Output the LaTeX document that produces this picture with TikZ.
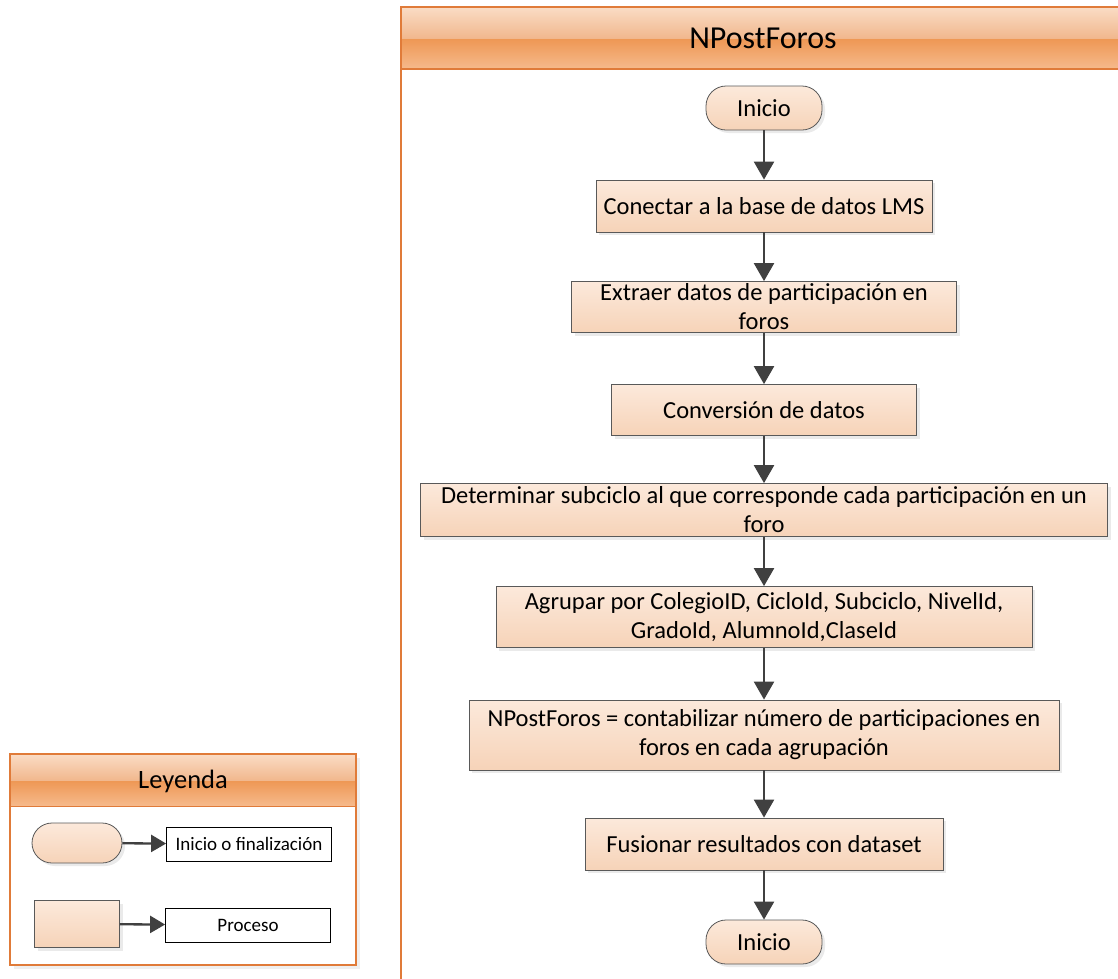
\documentclass[tikz,border=0pt]{standalone}
\usepackage{fontspec}
\setmainfont{Carlito}
\usetikzlibrary{arrows.meta,shadows}
\definecolor{hT}{HTML}{FADCC5}
\definecolor{hU}{HTML}{F1B88E}
\definecolor{hM}{HTML}{EE9754}
\definecolor{hB}{HTML}{F6BA8C}
\definecolor{poolC}{HTML}{E07B39}
\definecolor{boxT}{HTML}{FCE9DB}
\definecolor{boxB}{HTML}{F6D3B8}
\definecolor{lineC}{HTML}{595959}
\definecolor{arrC}{HTML}{404040}
\pgfdeclareverticalshading{hdrshade}{100bp}{color(0bp)=(hB); color(25bp)=(hB); color(49.6bp)=(hM); color(50bp)=(hU); color(75bp)=(hT); color(100bp)=(hT)}
\tikzset{
  procbox/.style={draw=lineC, line width=0.8pt, top color=boxT, bottom color=boxB,
    drop shadow={shadow xshift=3pt, shadow yshift=-3pt, fill=black!16},
    font=\fontsize{24.5}{29}\selectfont, align=center, inner sep=0pt},
  termbox/.style={procbox, rounded corners=20pt},
  arr/.style={draw=arrC, line width=2.3pt, -{Triangle[width=20pt,length=18pt]}},
  legarr/.style={draw=arrC, line width=2.3pt, -{Triangle[width=17pt,length=15pt]}},
  legtext/.style={draw=black, line width=0.8pt, fill=white, inner sep=0pt,
    font=\fontsize{19}{23}\selectfont, minimum width=165pt, minimum height=34pt},
}
\begin{document}
\begin{tikzpicture}[x=1pt,y=-1pt]
\useasboundingbox (0,0) rectangle (1118,978);
\clip (0,0) rectangle (1118,978);
\fill[white] (0,0) rectangle (1118,978);
% main pool
\draw[poolC, line width=1.2pt] (401,7) rectangle (1140,1000);
\fill[shading=hdrshade] (401,7) rectangle (1140,69);
\draw[poolC, line width=2pt] (401,7) -- (1140,7);
\draw[poolC, line width=2pt] (401,69) -- (1140,69);
\draw[poolC, line width=1.2pt] (401,7) -- (401,1000);
\node[font=\fontsize{32}{37}\selectfont] (title) at (763,38) {NPostForos};
% flow nodes
\node[termbox, minimum width=116pt, minimum height=44pt] (start) at (764,108) {Inicio};
\node[procbox, minimum width=336pt, minimum height=52pt] (n1) at (764,206) {Conectar a la base de datos LMS};
\node[procbox, minimum width=385pt, minimum height=51pt] (n2) at (764,307) {Extraer datos de participación en\\foros};
\node[procbox, minimum width=305pt, minimum height=51pt] (n3) at (764,410) {Conversión de datos};
\node[procbox, minimum width=687pt, minimum height=53pt] (n4) at (764,510) {Determinar subciclo al que corresponde cada participación en un\\foro};
\node[procbox, minimum width=536pt, minimum height=61pt] (n5) at (764,617) {Agrupar por ColegioID, CicloId, Subciclo, NivelId,\\GradoId, AlumnoId,ClaseId};
\node[procbox, minimum width=590pt, minimum height=70pt] (n6) at (764,735) {NPostForos = contabilizar número de participaciones en\\foros en cada agrupación};
\node[procbox, minimum width=358pt, minimum height=52pt] (n7) at (764,844) {Fusionar resultados con dataset};
\node[termbox, minimum width=116pt, minimum height=44pt] (stop) at (764,942) {Inicio};
\draw[arr] (start) -- (n1);
\draw[arr] (n1) -- (n2);
\draw[arr] (n2) -- (n3);
\draw[arr] (n3) -- (n4);
\draw[arr] (n4) -- (n5);
\draw[arr] (n5) -- (n6);
\draw[arr] (n6) -- (n7);
\draw[arr] (n7) -- (stop);
% legend
\draw[poolC, line width=1.2pt, fill=white, drop shadow={shadow xshift=4pt, shadow yshift=-4pt, fill=black!12}] (10,754) rectangle (356,965);
\fill[shading=hdrshade] (10,754) rectangle (356,806);
\draw[poolC, line width=1.2pt] (10,754) rectangle (356,965);
\draw[poolC, line width=1pt] (10,806) -- (356,806);
\node[font=\fontsize{26.5}{31}\selectfont] (legtitle) at (183,781) {Leyenda};
\node[termbox, minimum width=90pt, minimum height=40pt] (lterm) at (77,843) {};
\node[procbox, minimum width=85pt, minimum height=47pt] (lproc) at (77,924) {};
\node[legtext] (lt1) at (249,844) {Inicio o finalización};
\node[legtext] (lt2) at (248,925) {Proceso};
\draw[legarr] (lterm) -- (lt1);
\draw[legarr] (lproc) -- (lt2);
\end{tikzpicture}
\end{document}
